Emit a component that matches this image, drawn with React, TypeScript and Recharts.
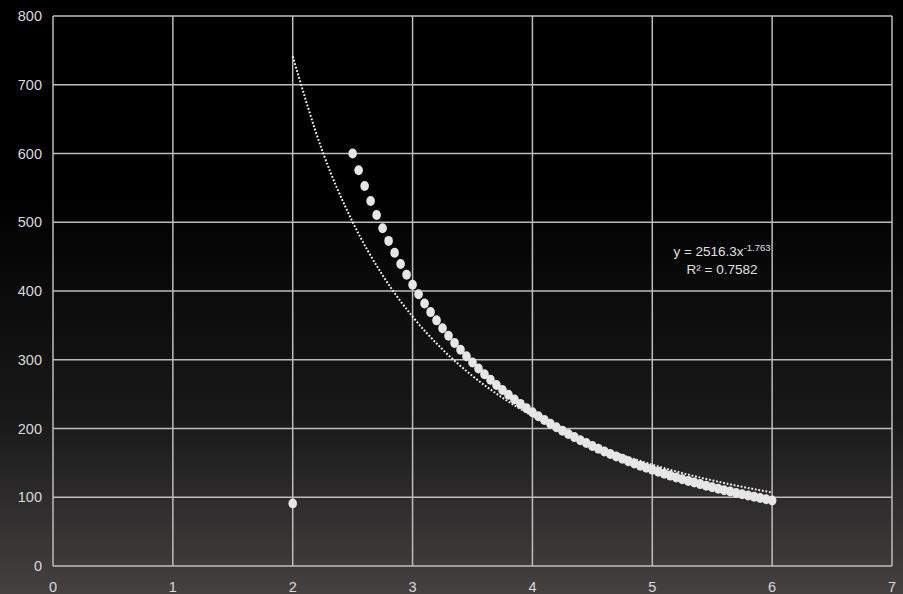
import { ComposedChart, Scatter, Line, XAxis, YAxis, CartesianGrid } from "recharts";

// measured points (x, y)
const xValues = [
  2, 2.5, 2.55, 2.6, 2.65, 2.7, 2.75, 2.8, 2.85, 2.9, 2.95, 3, 3.05, 3.1, 3.15, 3.2, 3.25, 3.3, 3.35, 3.4, 3.45,
  3.5, 3.55, 3.6, 3.65, 3.7, 3.75, 3.8, 3.85, 3.9, 3.95, 4, 4.05, 4.1, 4.15, 4.2, 4.25, 4.3, 4.35, 4.4, 4.45,
  4.5, 4.55, 4.6, 4.65, 4.7, 4.75, 4.8, 4.85, 4.9, 4.95, 5, 5.05, 5.1, 5.15, 5.2, 5.25, 5.3, 5.35, 5.4, 5.45,
  5.5, 5.55, 5.6, 5.65, 5.7, 5.75, 5.8, 5.85, 5.9, 5.95, 6,
];
const yValues = [
  91, 600, 575.6, 552.6, 530.9, 510.5, 491.2, 472.9, 455.7, 439.3, 423.8, 409.1, 395.2, 381.9, 369.3, 357.3,
  345.8, 334.9, 324.5, 314.6, 305.1, 296.0, 287.3, 279.0, 271.0, 263.4, 256.1, 249.0, 242.3, 235.8, 229.6,
  223.6, 217.8, 212.3, 207.0, 201.8, 196.9, 192.1, 187.5, 183.0, 178.8, 174.6, 170.6, 166.7, 163.0, 159.4,
  155.9, 152.5, 149.2, 146.0, 142.9, 139.9, 137.1, 134.3, 131.5, 128.9, 126.3, 123.8, 121.4, 119.1, 116.8,
  114.6, 112.4, 110.3, 108.3, 106.3, 104.4, 102.5, 100.6, 98.9, 97.1, 95.4,
];

// power trendline as drawn (y = 2516.3x^-1.763)
const trendX = [2, 2.25, 2.5, 2.75, 3, 3.25, 3.5, 3.75, 4, 4.25, 4.5, 4.75, 5, 5.25, 5.5, 5.75, 6];
const trendY = [741.4, 602.4, 500.3, 422.9, 362.7, 315.0, 276.4, 244.8, 218.4, 196.3, 177.5, 161.3, 147.4, 135.2, 124.6, 115.2, 106.9];

const xTicks = [0, 1, 2, 3, 4, 5, 6, 7];
const yTicks = [0, 100, 200, 300, 400, 500, 600, 700, 800];

const points = xValues.map((x, i) => ({ x, y: yValues[i] }));
const trend = trendX.map((x, i) => ({ x, y: trendY[i] }));

const tickStyle = { fontSize: 14.5, fill: "#d9d9d9", fontFamily: "Liberation Sans, Arial, sans-serif" };

const Dot = (props: any) => <ellipse cx={props.cx} cy={props.cy} rx={4.3} ry={5} fill="#e6e6e6" />;

export default function App() {
  return (
    <div
      style={{
        position: "fixed",
        left: 0,
        top: 0,
        width: 903,
        height: 594,
        background: "linear-gradient(to bottom, #000 0%, #000 32%, #181818 70%, #454141 100%)",
        fontFamily: "Liberation Sans, Arial, sans-serif",
      }}
    >
      <ComposedChart width={903} height={594} margin={{ top: 16, right: 11, bottom: 0, left: 0 }}>
        <CartesianGrid stroke="#bdbdbd" strokeWidth={1.5} />
        <XAxis
          type="number"
          dataKey="x"
          domain={[0, 7]}
          ticks={xTicks}
          height={28}
          tickLine={false}
          axisLine={false}
          tickMargin={10}
          tick={tickStyle}
          allowDuplicatedCategory={false}
        />
        <YAxis
          type="number"
          dataKey="y"
          domain={[0, 800]}
          ticks={yTicks}
          width={53}
          tickLine={false}
          axisLine={false}
          tickMargin={5}
          tick={tickStyle}
        />
        <Line
          data={trend}
          dataKey="y"
          type="monotone"
          stroke="#f2f2f2"
          strokeWidth={2}
          strokeDasharray="1.8 1.8"
          dot={false}
          activeDot={false}
          isAnimationActive={false}
        />
        <Scatter data={points} dataKey="y" shape={Dot} isAnimationActive={false} />
      </ComposedChart>
      <div
        style={{
          position: "absolute",
          left: 622,
          width: 200,
          top: 239,
          textAlign: "center",
          color: "#e0e0e0",
          fontSize: 13.5,
          lineHeight: "18px",
        }}
      >
        <div>
          y = 2516.3x<sup style={{ fontSize: 9.5, verticalAlign: "5px" }}>-1.763</sup>
        </div>
        <div>R² = 0.7582</div>
      </div>
    </div>
  );
}
